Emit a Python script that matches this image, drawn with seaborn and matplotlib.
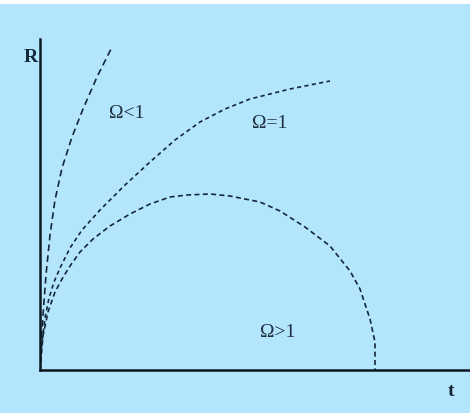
import matplotlib
matplotlib.use("Agg")
import matplotlib.pyplot as plt
import seaborn as sns
from matplotlib.patches import Rectangle

# --- Daten (Einheiten ~ Pixel) ---
t_open = [0, 1, 3, 6, 10, 15, 22, 32, 43, 57, 71]
R_open = [0, 25, 55, 95, 135, 170, 202, 233, 261, 293, 321]

t_flat = [0, 2, 5, 9, 14, 20, 30, 42, 60, 85, 110, 135, 160, 185, 210, 250, 290]
R_flat = [0, 28, 52, 72, 88, 102, 122, 140, 160, 185, 208, 230, 248, 261, 271, 281, 289]

t_closed = [0, 3, 8, 15, 22, 30, 40, 53, 70, 90, 110, 130, 147, 170, 190,
            220, 240, 265, 290, 310, 320, 330, 335, 335]
R_closed = [0, 34, 58, 78, 91, 104, 118, 131, 144, 156, 166, 173, 175, 176, 174,
            168, 159, 143, 124, 99, 81, 51, 28, 0]

labels = ["Ω<1", "Ω=1", "Ω>1"]

bg = "#b3e5fc"
ink = "#14283a"

sns.set_theme(style="white")
plt.rcParams['font.family'] = ['Liberation Serif', 'DejaVu Serif']

fig = plt.figure(figsize=(4.70, 4.14), dpi=100)
fig.patch.set_facecolor(bg)
# weisser Streifen oben
fig.add_artist(Rectangle((0, 409 / 414), 1, 5 / 414, transform=fig.transFigure,
                         facecolor="white", edgecolor="none"))

ax = fig.add_axes([40 / 470, 43 / 414, 430 / 470, 331 / 414])
ax.set_facecolor(bg)

for tt, rr, ls in [(t_open, R_open, (0, (4, 2.5))),
                   (t_flat, R_flat, (0, (2.5, 2))),
                   (t_closed, R_closed, (0, (3, 2)))]:
    sns.lineplot(x=tt, y=rr, sort=False, estimator=None, ax=ax,
                 color=ink, linewidth=1.2, linestyle=ls)

ax.set_xlim(0, 430)
ax.set_ylim(0, 331)
ax.set_xticks([])
ax.set_yticks([])
for side in ["top", "right"]:
    ax.spines[side].set_visible(False)
for side in ["left", "bottom"]:
    ax.spines[side].set_color("#0c1822")
    ax.spines[side].set_linewidth(1.8)

# Beschriftungen
ax.text(87, 258, labels[0], fontsize=14, color="#1c3040", ha="center", va="center")
ax.text(230, 248, labels[1], fontsize=14, color="#1c3040", ha="center", va="center")
ax.text(238, 38, labels[2], fontsize=14, color="#1c3040", ha="center", va="center")

fig.text(31 / 470, 1 - 58 / 414, "R", fontsize=14, fontweight="bold",
         color=ink, ha="center", va="center")
fig.text(451 / 470, 1 - 392 / 414, "t", fontsize=14, fontweight="bold",
         color=ink, ha="center", va="center")

fig.savefig("out.png", dpi=100, facecolor=fig.get_facecolor())
